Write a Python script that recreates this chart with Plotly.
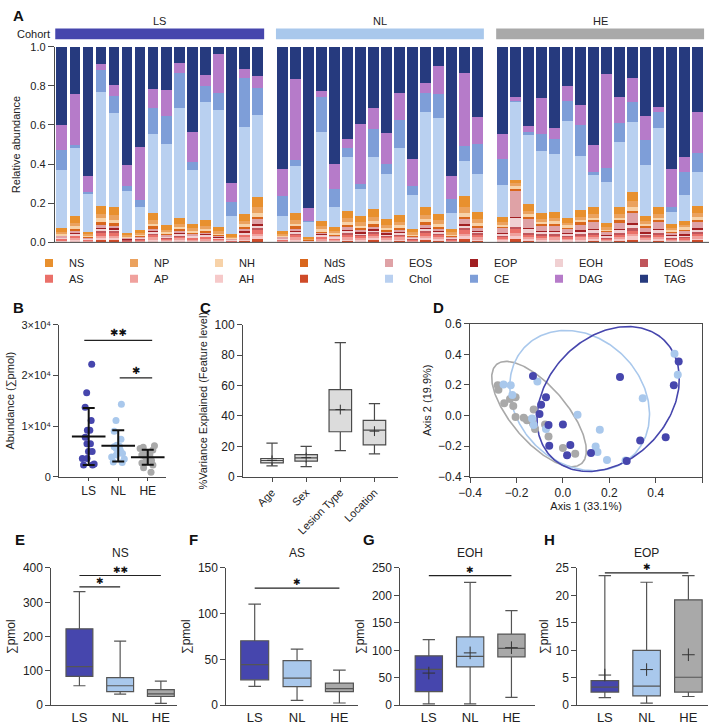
import numpy as np
import plotly.graph_objects as go

W, H = 709, 726
def px(x): return x / W
def py(y): return 1 - y / H

FONT = "Liberation Sans, Arial, sans-serif"
C_LS, C_NL, C_HE = "#4646ad", "#a9c8ec", "#a9a9a9"
AX = "#4a4a4a"

# ---------------- Panel A data (relative abundance per sample) ----------------
cohorts = ["LS", "NL", "HE"]
samples = {c: [f"{c}{i:02d}" for i in range(1, 17)] for c in cohorts}

NS = [.017,.034,.013,.040,.043,.012,.015,.036,.022,.032,.021,.030,.018,.010,.034,.052,
      .014,.035,.007,.026,.019,.036,.032,.042,.029,.034,.016,.040,.035,.015,.055,.037,
      .026,.020,.034,.030,.031,.025,.033,.036,.019,.036,.050,.027,.036,.018,.022,.037]
NP = [.009,.018,.007,.022,.024,.006,.008,.020,.011,.016,.012,.014,.010,.005,.019,.030,
      .008,.020,.004,.014,.010,.020,.018,.022,.016,.018,.009,.023,.019,.009,.030,.020,
      .013,.014,.018,.015,.015,.013,.016,.018,.010,.018,.026,.013,.018,.009,.011,.019]
NH = [.007,.012,.005,.018,.015,.005,.006,.013,.008,.011,.008,.010,.007,.004,.013,.020,
      .005,.014,.003,.010,.007,.015,.012,.015,.011,.012,.006,.016,.013,.006,.021,.014,
      .010,.012,.014,.012,.012,.010,.013,.014,.008,.015,.021,.011,.014,.007,.009,.015]
NdS = [.004,.008,.003,.009,.009,.003,.003,.008,.004,.006,.005,.006,.004,.002,.008,.012,
       .003,.008,.001,.005,.004,.008,.007,.009,.006,.007,.003,.009,.007,.004,.012,.008,
       .005,.006,.008,.006,.006,.005,.007,.007,.004,.007,.010,.005,.007,.004,.004,.007]
EOS = [.007,.012,.005,.020,.018,.005,.007,.015,.009,.012,.009,.011,.008,.004,.014,.023,
       .006,.015,.003,.011,.008,.017,.013,.017,.012,.014,.007,.019,.015,.007,.024,.015,
       .026,.140,.048,.030,.031,.025,.033,.037,.019,.036,.052,.027,.036,.018,.022,.037]
EOP = [.001,.003,.001,.004,.004,.001,.001,.003,.002,.002,.002,.002,.002,.001,.003,.005,
       .001,.003,.001,.002,.002,.003,.003,.003,.002,.003,.001,.004,.003,.001,.005,.003,
       .003,.003,.004,.003,.003,.002,.003,.004,.002,.004,.005,.003,.004,.002,.002,.004]
EOH = [.005,.009,.004,.014,.012,.003,.004,.011,.006,.009,.007,.008,.005,.003,.010,.016,
       .004,.011,.002,.008,.006,.012,.009,.012,.008,.010,.005,.013,.010,.005,.017,.011,
       .012,.050,.020,.014,.014,.011,.015,.016,.009,.016,.023,.012,.016,.009,.010,.017]
EOdS = [.002,.004,.002,.006,.006,.002,.002,.005,.003,.004,.003,.003,.002,.001,.004,.007,
        .002,.005,.001,.003,.002,.005,.004,.005,.004,.004,.002,.005,.004,.002,.007,.005,
        .004,.006,.006,.005,.005,.004,.005,.006,.003,.005,.008,.004,.006,.003,.003,.006]
AS = [.007,.012,.005,.017,.016,.005,.006,.014,.008,.011,.008,.010,.007,.004,.013,.022,
      .005,.014,.002,.010,.007,.015,.012,.015,.011,.012,.006,.017,.013,.006,.021,.014,
      .010,.020,.015,.012,.012,.010,.013,.014,.008,.015,.021,.011,.015,.007,.009,.015]
AP = [.004,.008,.003,.011,.011,.003,.004,.009,.005,.008,.006,.007,.005,.003,.009,.014,
      .004,.009,.002,.007,.005,.010,.008,.011,.007,.008,.004,.011,.009,.004,.015,.009,
      .007,.015,.009,.008,.008,.006,.008,.009,.005,.009,.013,.007,.009,.005,.006,.009]
AH = [.004,.007,.003,.012,.011,.003,.004,.009,.005,.007,.006,.007,.005,.003,.009,.014,
      .004,.009,.001,.007,.005,.009,.008,.011,.007,.008,.004,.012,.009,.004,.015,.009,
      .008,.020,.011,.009,.009,.008,.010,.011,.006,.011,.016,.008,.011,.006,.006,.011]
AdS = [.005,.007,.003,.011,.012,.002,.004,.008,.004,.007,.005,.006,.004,.002,.009,.016,
       .003,.008,.001,.006,.004,.009,.008,.010,.007,.009,.004,.012,.010,.004,.015,.009,
       .006,.015,.009,.007,.008,.006,.008,.009,.004,.009,.014,.006,.009,.004,.005,.010]
Chol = [.296,.348,.199,.582,.480,.214,.117,.401,.418,.564,.276,.605,.599,.092,.447,.418,
        .075,.239,.079,.455,.102,.279,.137,.266,.228,.343,.175,.483,.488,.084,.181,.194,
        .163,.398,.351,.314,.298,.497,.277,.162,.212,.332,.356,.261,.404,.062,.133,.173]
CE = [.104,.015,.003,.117,.085,.024,.036,.134,.140,.176,.043,.079,.088,.073,.247,.140,
      .103,.033,.002,.180,.092,.044,.027,.139,.053,.143,.046,.097,.121,.071,.075,.157,
      .133,.003,.017,.090,.075,.102,.161,.017,.072,.097,.101,.128,.081,.025,.118,.097]
DAG = [.130,.259,.085,.028,.057,.105,.271,.097,.134,.050,.153,.055,.201,.097,.047,.060,
       .136,.410,.067,.029,.128,.045,.307,.109,.159,.139,.137,.052,.147,.116,.372,.134,
       .126,.022,.033,.181,.058,.075,.100,.138,.480,.134,.123,.121,.028,.194,.075,.207]
TAG = [.398,.244,.659,.089,.197,.607,.512,.217,.221,.085,.436,.147,.035,.696,.114,.151,
       .627,.167,.824,.227,.599,.473,.395,.314,.440,.236,.575,.187,.097,.662,.135,.361,
       .448,.256,.403,.264,.415,.201,.298,.502,.139,.256,.161,.356,.306,.627,.565,.336]

class_values = {"NS": NS, "NP": NP, "NH": NH, "NdS": NdS, "EOS": EOS, "EOP": EOP, "EOH": EOH,
                "EOdS": EOdS, "AS": AS, "AP": AP, "AH": AH, "AdS": AdS, "Chol": Chol, "CE": CE,
                "DAG": DAG, "TAG": TAG}
stack_order = ["AdS", "AH", "AP", "AS", "EOdS", "EOH", "EOP", "EOS", "NdS", "NH", "NP", "NS",
               "Chol", "CE", "DAG", "TAG"]
legend_order = ["NS", "NP", "NH", "NdS", "EOS", "EOP", "EOH", "EOdS",
                "AS", "AP", "AH", "AdS", "Chol", "CE", "DAG", "TAG"]
class_colors = {"NS": "#e8902e", "NP": "#eba25e", "NH": "#f7d2a8", "NdS": "#d9661c",
                "EOS": "#dfa2a6", "EOP": "#a11f22", "EOH": "#f0d0d2", "EOdS": "#c0555b",
                "AS": "#ea7069", "AP": "#f0a19d", "AH": "#f6c9c9", "AdS": "#cf4a28",
                "Chol": "#b9d0f0", "CE": "#7e9ed8", "DAG": "#b67bc9", "TAG": "#263a7e"}
cohort_colors = {"LS": C_LS, "NL": C_NL, "HE": C_HE}

# ---------------- Panel B data (total abundance, pmol) ----------------
b_groups = ["LS", "NL", "HE"]
b_LS = [22200, 16600, 13700, 11100, 9200, 9200, 7800, 6500, 6500, 5000, 5000, 3600, 3600, 2300, 2300, 2500]
b_NL = [14300, 11100, 9000, 7400, 6200, 6000, 5900, 5600, 5200, 4900, 4600, 4300, 3900, 3500, 2900, 2800]
b_HE = [6100, 5800, 5600, 5300, 4900, 4500, 4300, 4000, 3800, 3500, 3200, 3000, 2700, 2300, 1800, 900]
b_sig = [("LS", "HE", 26900, "✱✱"), ("NL", "HE", 19500, "✱")]

# ---------------- Panel C data (% variance explained) ----------------
c_factors = ["Age", "Sex", "Lesion Type", "Location"]
c_lo = [7.1, 6.7, 17.2, 15.0]
c_q1 = [9.2, 10.3, 29.6, 21.0]
c_med = [10.7, 12.4, 44.0, 30.7]
c_q3 = [12.0, 14.6, 57.3, 37.1]
c_hi = [22.1, 20.0, 88.2, 48.1]
c_mean = [10.8, 12.6, 44.2, 30.0]

# ---------------- Panel D data (PCoA) ----------------
d_LS_x = [-0.129, 0.246, 0.499, 0.478, -0.073, -0.094, -0.101, -0.062, 0.000, -0.059, 0.032, 0.018, 0.121, 0.333, 0.443, 0.275]
d_LS_y = [0.258, 0.252, 0.354, 0.198, 0.119, 0.070, 0.010, -0.062, -0.058, -0.197, -0.193, -0.259, -0.244, -0.163, -0.141, -0.297]
d_NL_x = [0.481, 0.495, 0.344, -0.110, -0.225, -0.256, -0.218, 0.063, 0.159, -0.133, -0.073, 0.141, 0.149, 0.190, 0.270, -0.126]
d_NL_y = [0.404, 0.267, 0.113, 0.222, 0.198, 0.203, 0.134, 0.006, -0.092, -0.020, -0.088, -0.203, -0.238, -0.291, -0.293, -0.062]
d_HE_x = [-0.281, -0.278, -0.204, -0.228, -0.253, -0.214, -0.204, -0.169, -0.155, -0.126, -0.120, -0.077, -0.062, 0.000, 0.053, -0.129]
d_HE_y = [0.198, 0.168, 0.119, 0.109, 0.081, 0.062, -0.009, -0.015, -0.030, 0.040, -0.088, -0.058, -0.137, -0.212, -0.250, -0.052]
# ellipse: centre, first semi-axis vector, second semi-axis vector (data units)
ell_center = {"HE": (-0.103, 0.010), "NL": (0.072, 0.098), "LS": (0.195, 0.108)}
ell_u = {"HE": (0.183, -0.324), "NL": (0.233, -0.355), "LS": (0.241, 0.385)}
ell_v = {"HE": (-0.090, -0.117), "NL": (-0.191, -0.290), "LS": (0.190, -0.276)}

# ---------------- Panels E-H data (box stats, pmol) ----------------
box_groups = ["LS", "NL", "HE"]
ns_lo, ns_q1, ns_med, ns_q3, ns_hi = [56.9, 32.2, 5.7], [84.4, 39.8, 25.6], [112.8, 56.9, 33.2], [222.7, 80.6, 45.5], [330.8, 186.7, 70.1]
as_lo, as_q1, as_med, as_q3, as_hi = [20.7, 5.3, 2.5], [27.8, 20.3, 15.0], [44.5, 29.6, 18.2], [70.5, 48.8, 24.2], [110.5, 61.3, 38.5]
eoh_lo, eoh_q1, eoh_med, eoh_q3, eoh_hi = [2.4, 2.4, 14.2], [24.9, 69.9, 88.3], [65.2, 88.9, 103.7], [90.0, 124.4, 129.7], [119.7, 223.9, 172.4]
eoh_mean = [58.6, 95.4, 104.9]
eop_lo, eop_q1, eop_med, eop_q3, eop_hi = [1.4, 0.4, 1.6], [2.4, 1.7, 2.4], [3.3, 3.5, 5.1], [4.5, 10.0, 19.2], [23.6, 22.4, 23.6]
eop_mean = [5.5, 6.5, 9.2]
ns_sig = [(0, 1, 345, "✱"), (0, 2, 378, "✱✱")]
as_sig = [(0, 2, 128, "✱")]
eoh_sig = [(0, 2, 236, "✱")]
eop_sig = [(0, 2, 24.1, "✱")]

# =====================================================================
fig = go.Figure()
annotations, shapes = [], []

def axis_base(**kw):
    d = dict(showline=True, linecolor=AX, linewidth=1, ticks="outside", ticklen=5, tickwidth=1,
             tickcolor=AX, tickfont=dict(size=11, color="#222"), showgrid=False, zeroline=False,
             fixedrange=True)
    d.update(kw)
    return d

# ---- Panel A ----
a_axes = {"LS": ("x", "xaxis", (44, 256.5)), "NL": ("x2", "xaxis2", (268.5, 480)), "HE": ("x3", "xaxis3", (492.5, 704))}
for ci, c in enumerate(cohorts):
    xr = a_axes[c][0]
    for cls in stack_order:
        vals = class_values[cls][ci * 16:(ci + 1) * 16]
        fig.add_trace(go.Bar(x=samples[c], y=vals, marker=dict(color=class_colors[cls], line=dict(width=0)),
                             xaxis=xr, yaxis="y", showlegend=False, name=cls))
for i, cls in enumerate(legend_order):
    fig.add_trace(go.Scatter(x=[None], y=[None], mode="markers", name=cls,
                             marker=dict(symbol="square", size=8, color=class_colors[cls]),
                             xaxis="x", yaxis="y", legend="legend" if i < 8 else "legend2"))

layout = {}
for c in cohorts:
    xr, key, (d0, d1) = a_axes[c]
    layout[key] = dict(domain=[px(d0), px(d1)], type="category", showticklabels=False, ticks="",
                       showline=False, showgrid=False, zeroline=False, anchor="y", fixedrange=True)
    shapes.append(dict(type="rect", xref=f"{xr} domain", yref="paper", x0=0, x1=1, y0=py(33), y1=py(22),
                       fillcolor=cohort_colors[c], line=dict(width=0)))
    annotations.append(dict(text=c, xref=f"{xr} domain", yref="paper", x=0.5, y=py(14), showarrow=False,
                            font=dict(size=11, color="#222"), xanchor="center", yanchor="middle"))
layout["yaxis"] = axis_base(domain=[py(240), py(40.5)], range=[0, 1], tickvals=[0, .2, .4, .6, .8, 1.0],
                            tickformat=".1f", anchor="free", position=px(42.5), ticklen=6,
                            title=dict(text="Relative abundance", font=dict(size=11), standoff=6))
shapes.append(dict(type="line", xref="paper", yref="paper", x0=px(42.5), x1=1, y0=py(240), y1=py(240),
                   line=dict(color=AX, width=1)))
annotations.append(dict(text="Cohort", xref="paper", yref="paper", x=px(3), y=py(28), showarrow=False,
                        xanchor="left", yanchor="middle", font=dict(size=11, color="#222")))

# ---- Panel B ----
for g, vals, col in zip(b_groups, [b_LS, b_NL, b_HE], [C_LS, C_NL, C_HE]):
    fig.add_trace(go.Box(x=[g] * len(vals), y=vals, boxpoints="all", jitter=1.0, pointpos=0, width=0.55,
                         fillcolor="rgba(0,0,0,0)", line=dict(width=0, color="rgba(0,0,0,0)"),
                         marker=dict(color=col, size=7), xaxis="x4", yaxis="y4", showlegend=False,
                         hoveron="points"))
b_mean = [float(np.mean(v)) for v in (b_LS, b_NL, b_HE)]
b_sd = [float(np.std(v, ddof=1)) for v in (b_LS, b_NL, b_HE)]
fig.add_trace(go.Scatter(x=b_groups, y=b_mean, mode="markers", showlegend=False,
                         marker=dict(symbol="line-ew-open", size=24, color="#111", line=dict(width=2, color="#111")),
                         error_y=dict(type="data", array=b_sd, width=6, thickness=2, color="#111"),
                         xaxis="x4", yaxis="y4"))
layout["xaxis4"] = axis_base(domain=[px(48), px(157)], type="category", categoryarray=b_groups,
                             range=[-1, 2.63], anchor="y4", tickfont=dict(size=12, color="#222"), ticklen=3)
layout["yaxis4"] = axis_base(domain=[py(479), py(324)], range=[0, 30000], tickvals=[0, 10000, 20000, 30000],
                             ticktext=["0", "1×10⁴", "2×10⁴", "3×10⁴"], anchor="x4",
                             title=dict(text="Abundance (∑pmol)", font=dict(size=11), standoff=4))

# ---- Panel C ----
fig.add_trace(go.Box(x=c_factors, q1=c_q1, median=c_med, q3=c_q3, lowerfence=c_lo, upperfence=c_hi,
                     fillcolor="#dcdcdc", line=dict(color=AX, width=1.2), width=0.66, whiskerwidth=0.5,
                     xaxis="x5", yaxis="y5", showlegend=False, boxpoints=False))
fig.add_trace(go.Scatter(x=c_factors, y=c_mean, mode="markers", showlegend=False,
                         marker=dict(symbol="cross-thin-open", size=7, color="#333", line=dict(width=1, color="#333")),
                         xaxis="x5", yaxis="y5"))
layout["xaxis5"] = axis_base(domain=[px(235), px(393)], type="category", categoryarray=c_factors,
                             range=[-0.85, 3.7], anchor="y5", tickangle=-45, ticklen=4)
layout["yaxis5"] = axis_base(domain=[py(479), py(324)], range=[0, 100], dtick=20, anchor="x5",
                             tickfont=dict(size=12, color="#222"),
                             title=dict(text="%Variance Explained (Feature level)", font=dict(size=11), standoff=4))

# ---- Panel D ----
t = np.linspace(0, 2 * np.pi, 240)
for g, col in [("HE", C_HE), ("NL", C_NL), ("LS", C_LS)]:
    (cx, cy), (ux, uy), (vx, vy) = ell_center[g], ell_u[g], ell_v[g]
    fig.add_trace(go.Scatter(x=cx + ux * np.cos(t) + vx * np.sin(t), y=cy + uy * np.cos(t) + vy * np.sin(t),
                             mode="lines", line=dict(color=col, width=1.6), showlegend=False,
                             xaxis="x6", yaxis="y6", hoverinfo="skip"))
for xs, ys, col in [(d_HE_x, d_HE_y, C_HE), (d_NL_x, d_NL_y, C_NL), (d_LS_x, d_LS_y, C_LS)]:
    fig.add_trace(go.Scatter(x=xs, y=ys, mode="markers", marker=dict(color=col, size=8), showlegend=False,
                             xaxis="x6", yaxis="y6"))
layout["xaxis6"] = axis_base(domain=[px(466), px(702)], range=[-0.4, 0.6], dtick=0.2, tickformat=".1f",
                             anchor="y6", mirror=True, tickfont=dict(size=12, color="#222"),
                             title=dict(text="Axis 1 (33.1%)", font=dict(size=11), standoff=2))
layout["yaxis6"] = axis_base(domain=[py(479), py(323)], range=[-0.4, 0.6], dtick=0.2, tickformat=".1f",
                             anchor="x6", mirror=True, tickfont=dict(size=12, color="#222"),
                             title=dict(text="Axis 2 (19.9%)", font=dict(size=11), standoff=4))

# ---- Panels E-H ----
panels = [
    ("7", "NS", (40, 168), (-0.69, 2.4), 400, 100, (ns_lo, ns_q1, ns_med, ns_q3, ns_hi), None, ns_sig),
    ("8", "AS", (218, 352), (-0.67, 2.44), 150, 50, (as_lo, as_q1, as_med, as_q3, as_hi), None, as_sig),
    ("9", "EOH", (395, 532), (-0.69, 2.57), 250, 50, (eoh_lo, eoh_q1, eoh_med, eoh_q3, eoh_hi), eoh_mean, eoh_sig),
    ("10", "EOP", (575, 708), (-0.66, 2.47), 25, 5, (eop_lo, eop_q1, eop_med, eop_q3, eop_hi), eop_mean, eop_sig),
]
for n, title, (d0, d1), xrange_, ymax, dt, (lo, q1, med, q3, hi), mean, sig in panels:
    for i, (g, col) in enumerate(zip(box_groups, [C_LS, C_NL, C_HE])):
        fig.add_trace(go.Box(x=[g], q1=[q1[i]], median=[med[i]], q3=[q3[i]], lowerfence=[lo[i]],
                             upperfence=[hi[i]], fillcolor=col, line=dict(color="#555", width=1.2),
                             width=0.66, whiskerwidth=0.45, xaxis="x" + n, yaxis="y" + n,
                             showlegend=False, boxpoints=False))
    if mean is not None:
        fig.add_trace(go.Scatter(x=box_groups, y=mean, mode="markers", showlegend=False,
                                 marker=dict(symbol="cross-thin-open", size=9, color="#333",
                                             line=dict(width=1, color="#333")),
                                 xaxis="x" + n, yaxis="y" + n))
    layout["xaxis" + n] = axis_base(domain=[px(d0), px(d1)], type="category", categoryarray=box_groups,
                                    range=list(xrange_), anchor="y" + n, ticks="",
                                    tickfont=dict(size=13, color="#222"))
    layout["yaxis" + n] = axis_base(domain=[py(712), py(572)], range=[0, ymax], dtick=dt, anchor="x" + n,
                                    tickfont=dict(size=12, color="#222"),
                                    title=dict(text="∑pmol", font=dict(size=12), standoff=4))
    annotations.append(dict(text=title, xref="x" + n, yref="paper", x=1, y=py(557), showarrow=False,
                            font=dict(size=12, color="#222"), xanchor="center", yanchor="middle"))
    for a, b, yv, lab in sig:
        shapes.append(dict(type="line", xref="x" + n, yref="y" + n, x0=a, x1=b, y0=yv, y1=yv,
                           line=dict(color="#222", width=1.2)))
        annotations.append(dict(text=lab, xref="x" + n, yref="y" + n, x=(a + b) / 2, y=yv, showarrow=False,
                                xanchor="center", yanchor="bottom", yshift=-1,
                                font=dict(size=9, family="DejaVu Sans", color="#111")))

# significance in B
b_idx = {g: i for i, g in enumerate(b_groups)}
for a, b, yv, lab in b_sig:
    x0, x1 = b_idx[a] - (0.15 if a == "LS" else -0.05), b_idx[b] + 0.15
    shapes.append(dict(type="line", xref="x4", yref="y4", x0=x0, x1=x1, y0=yv, y1=yv,
                       line=dict(color="#222", width=1.2)))
    annotations.append(dict(text=lab, xref="x4", yref="y4", x=(x0 + x1) / 2, y=yv, showarrow=False,
                            xanchor="center", yanchor="bottom", font=dict(size=10, family="DejaVu Sans", color="#111")))

# panel letters
for lab, x, y in [("A", 7, 9), ("B", 7, 306), ("C", 197, 306), ("D", 434, 306),
                  ("E", 8, 543), ("F", 185, 543), ("G", 363, 543), ("H", 547, 543)]:
    annotations.append(dict(text=f"<b>{lab}</b>", xref="paper", yref="paper", x=px(x), y=py(y),
                            showarrow=False, xanchor="center", yanchor="middle",
                            font=dict(size=15, color="#111")))

leg = dict(orientation="h", xanchor="left", yanchor="middle", entrywidth=40, entrywidthmode="pixels",
           traceorder="normal", font=dict(size=11, color="#222"), bgcolor="rgba(0,0,0,0)", borderwidth=0,
           itemclick=False, itemdoubleclick=False)
layout["legend"] = dict(leg, x=px(29), y=py(261))
layout["legend2"] = dict(leg, x=px(29), y=py(277))

fig.update_layout(width=W, height=H, margin=dict(l=0, r=0, t=0, b=0), paper_bgcolor="white",
                  plot_bgcolor="rgba(0,0,0,0)", font=dict(family=FONT, size=11, color="#222"),
                  barmode="stack", bargap=0.19, showlegend=True, shapes=shapes, annotations=annotations,
                  **layout)
fig.write_html("out.html")
